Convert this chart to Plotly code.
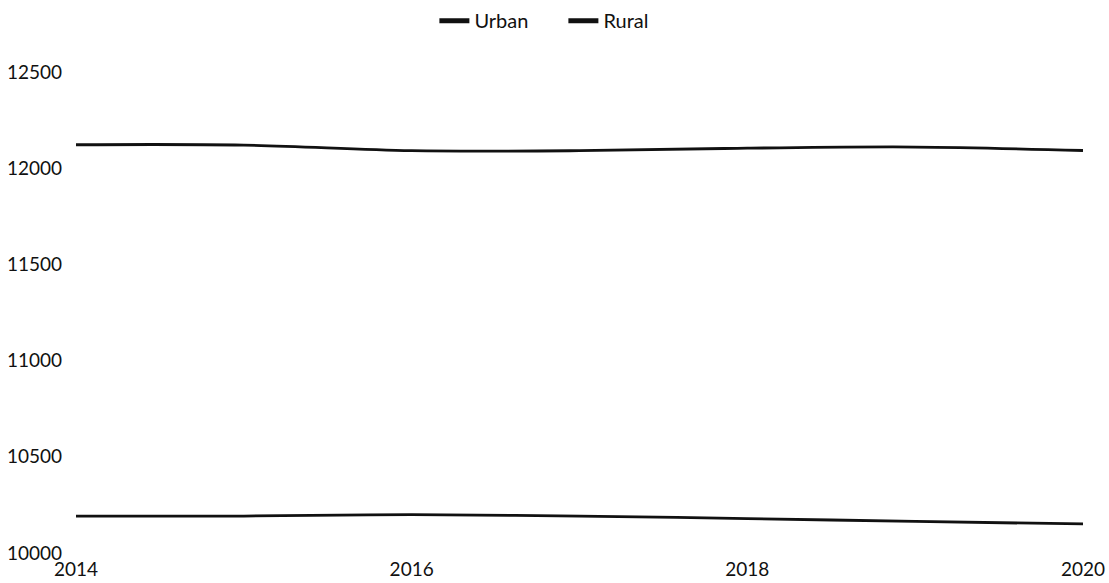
import plotly.graph_objects as go

years = [2014, 2015, 2016, 2017, 2018, 2019, 2020]
urban = [12122, 12120, 12091, 12091, 12104, 12110, 12092]
rural = [10192, 10192, 10199, 10192, 10179, 10164, 10151]
series_names = ["Urban", "Rural"]
x_ticks = [2014, 2016, 2018, 2020]
y_ticks = [10000, 10500, 11000, 11500, 12000, 12500]

FONT = "Lato"
INK = "#111111"

fig = go.Figure()
for name, vals in zip(series_names, [urban, rural]):
    fig.add_trace(go.Scatter(x=years, y=vals, name=name, mode="lines",
                             legendgroup=name, showlegend=False,
                             line=dict(color=INK, width=2.8, shape="spline")))
    # legend-only entry with the thicker, short key seen in the reference
    fig.add_trace(go.Scatter(x=[None], y=[None], name=name, mode="lines",
                             legendgroup=name, showlegend=True,
                             line=dict(color=INK, width=5)))

fig.update_layout(
    width=1109, height=583,
    margin=dict(l=76, r=26, t=72, b=30, autoexpand=False),
    paper_bgcolor="white", plot_bgcolor="white",
    font=dict(family=FONT, size=19, color=INK),
    showlegend=True,
    legend=dict(orientation="h", x=0.484, xanchor="center", y=0.998, yanchor="top",
                yref="container", itemwidth=30, entrywidth=84, font=dict(size=20)),
    xaxis=dict(range=[2014, 2020], tickvals=x_ticks, ticktext=[str(v) for v in x_ticks],
               showgrid=False, zeroline=False, showline=False, ticks="",
               automargin=False, ticklabelstandoff=3),
    yaxis=dict(range=[10000, 12500], tickvals=y_ticks, ticktext=[str(v) for v in y_ticks],
               showgrid=False, zeroline=False, showline=False, ticks="",
               automargin=False, ticklabelstandoff=13),
)

fig.write_html(
    "out.html",
    config={"displayModeBar": False},
    post_script="document.body.style.margin='0';document.body.style.overflow='hidden';",
)
